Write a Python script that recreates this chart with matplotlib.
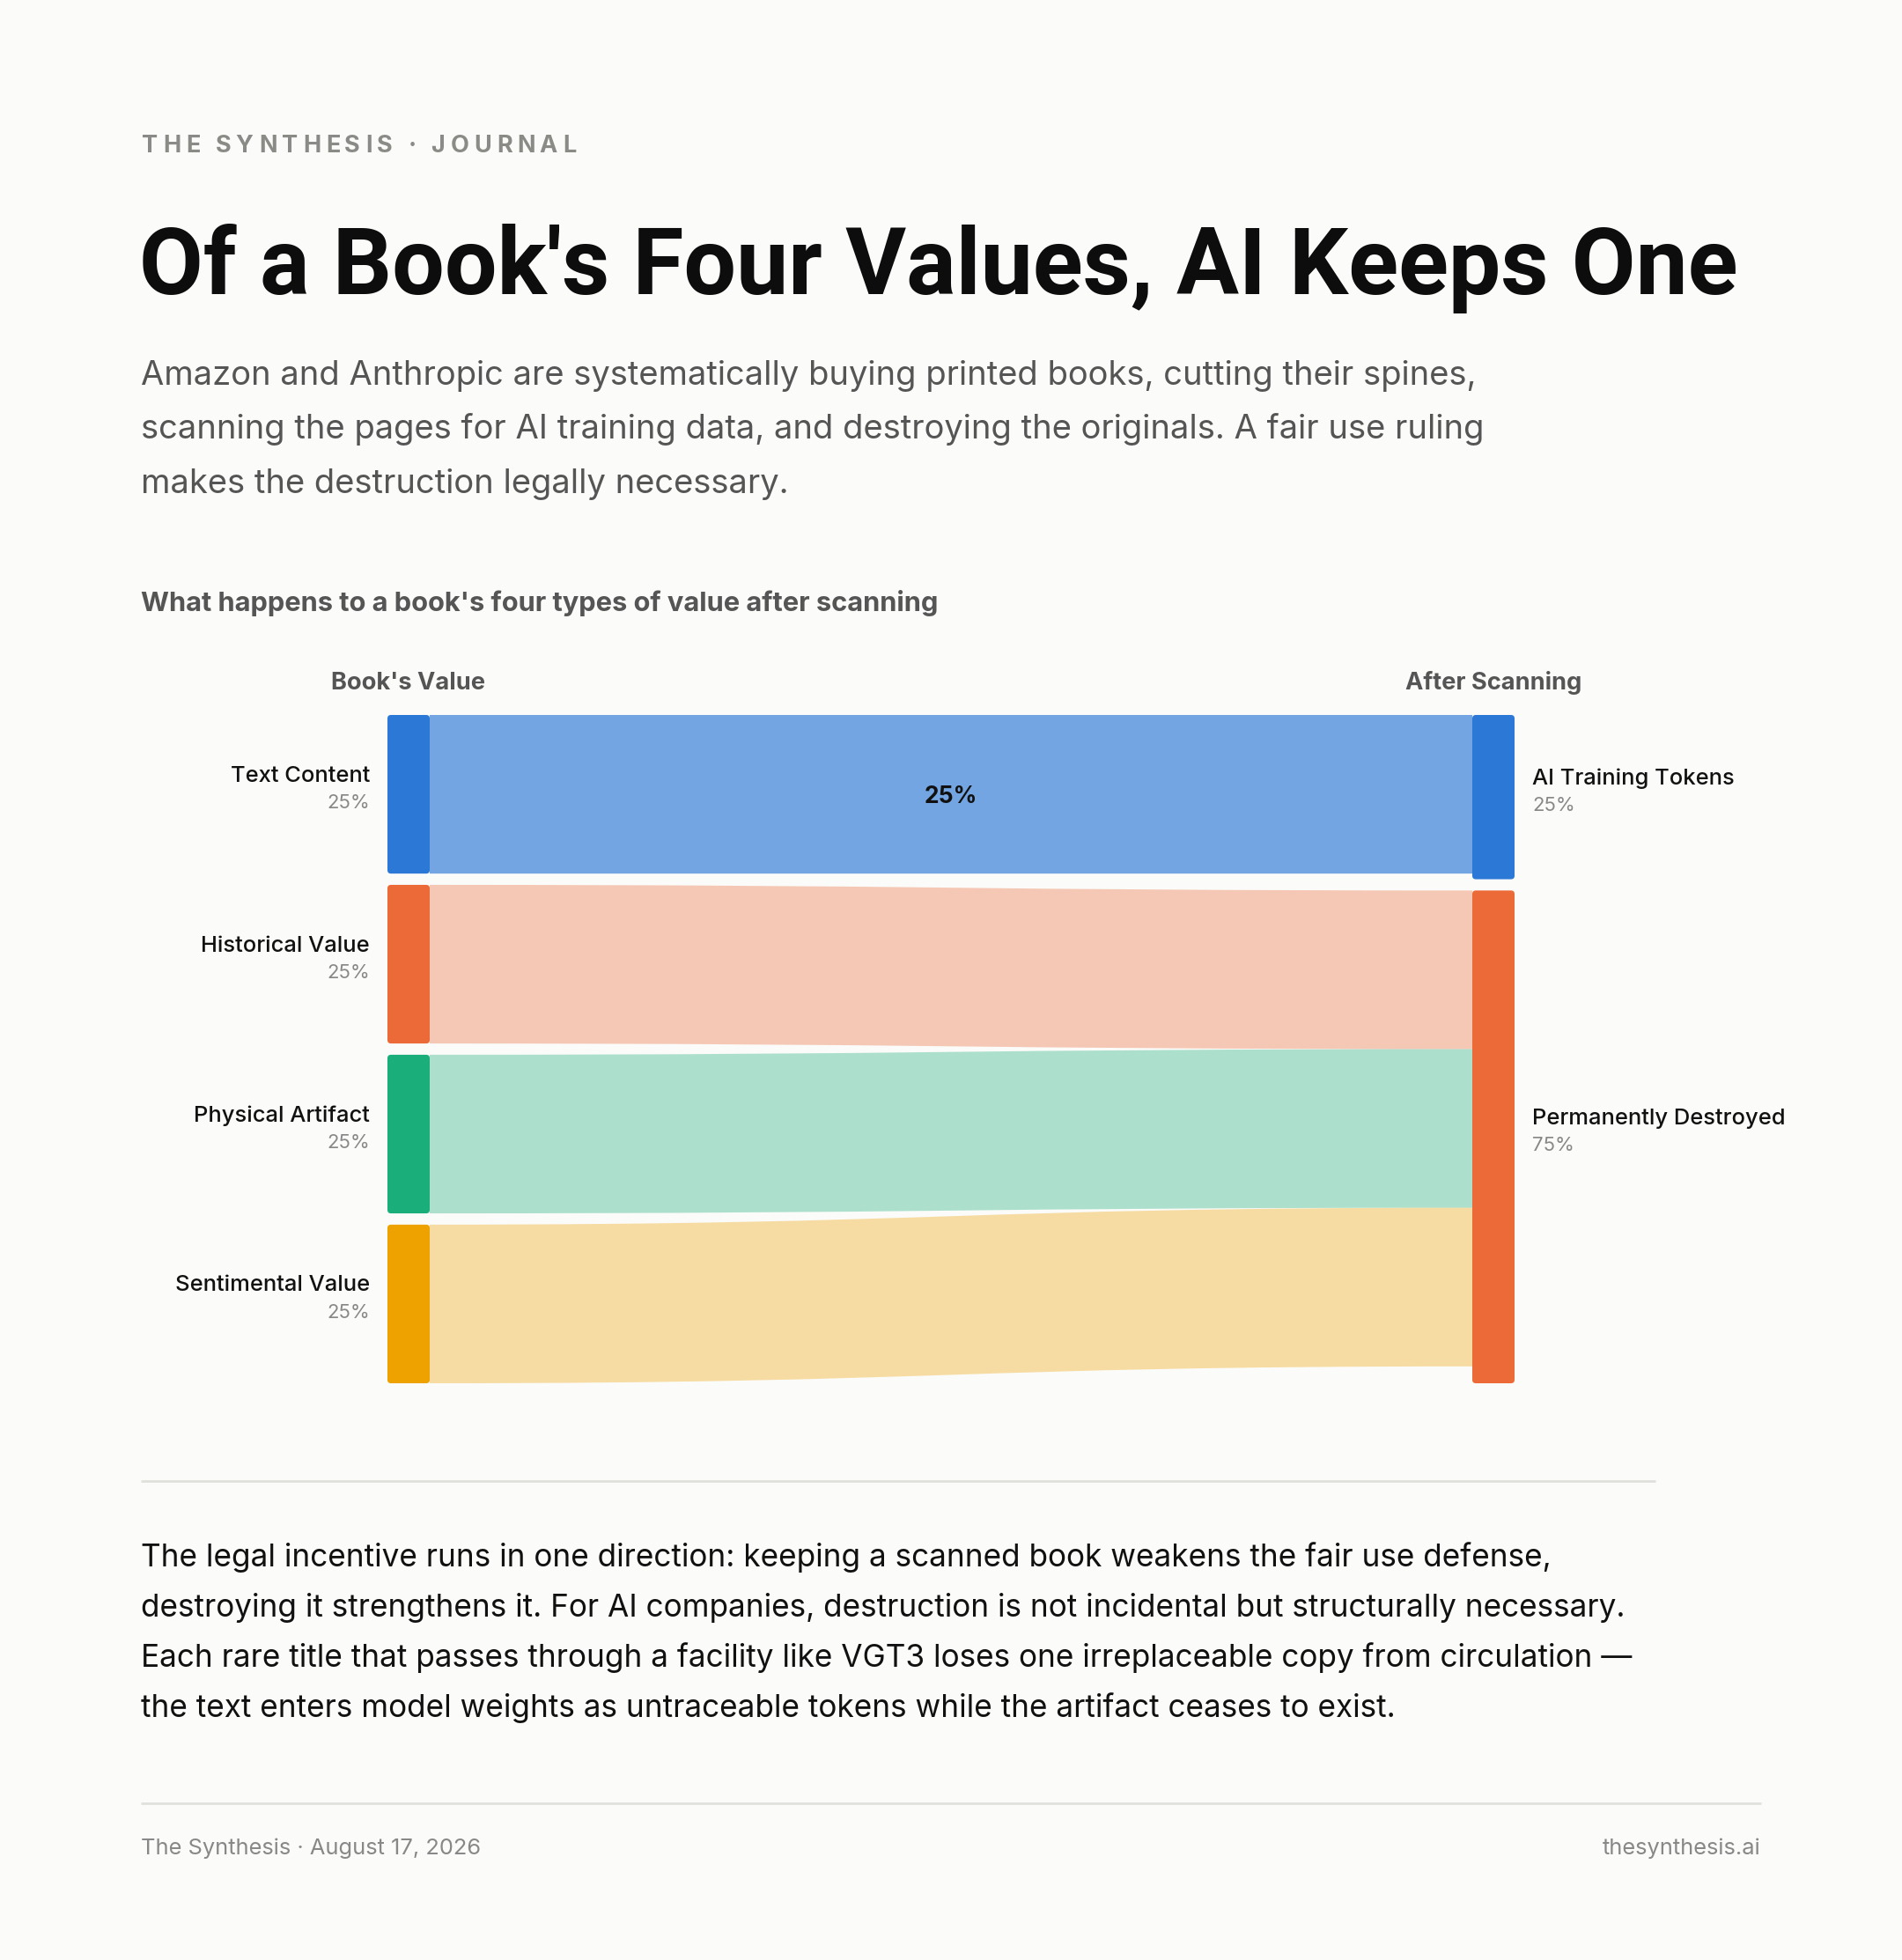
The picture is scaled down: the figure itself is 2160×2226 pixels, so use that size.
import numpy as np
import matplotlib
matplotlib.use("Agg")
import matplotlib.pyplot as plt
from matplotlib.path import Path
from matplotlib.patches import PathPatch, FancyBboxPatch
from matplotlib.font_manager import FontProperties, findfont, get_font
from matplotlib.ft2font import LOAD_NO_HINTING

plt.rcParams['font.family'] = ['Inter', 'DejaVu Sans']

# ---- data ----
sources = ["Text Content", "Historical Value", "Physical Artifact", "Sentimental Value"]
source_share = [25, 25, 25, 25]
source_colors = ["#2B78D6", "#EB6A37", "#1AAF7A", "#EEA200"]

targets = ["AI Training Tokens", "Permanently Destroyed"]
target_share = [25, 75]
target_colors = ["#2B78D6", "#EB6A37"]

# links: (source index, target index, value)
links = [(0, 0, 25), (1, 1, 25), (2, 1, 25), (3, 1, 25)]
link_alpha = [0.65, 0.35, 0.35, 0.35]
link_labels = ["25%", None, None, None]

kicker = "THE SYNTHESIS · JOURNAL"
title = "Of a Book's Four Values, AI Keeps One"
subtitle = ["Amazon and Anthropic are systematically buying printed books, cutting their spines,",
            "scanning the pages for AI training data, and destroying the originals. A fair use ruling",
            "makes the destruction legally necessary."]
chart_title = "What happens to a book's four types of value after scanning"
col_headers = ["Book's Value", "After Scanning"]
body = ["The legal incentive runs in one direction: keeping a scanned book weakens the fair use defense,",
        "destroying it strengthens it. For AI companies, destruction is not incidental but structurally necessary.",
        "Each rare title that passes through a facility like VGT3 loses one irreplaceable copy from circulation \u2014",
        "the text enters model weights as untraceable tokens while the artifact ceases to exist."]
footer_left = "The Synthesis · August 17, 2026"
footer_right = "thesynthesis.ai"

# ---- layout (pixels) ----
W, H = 2160, 2226
DPI = 100
BG = "#FBFBF9"
LM = 160
top, bottom = 812, 1571
gap = 12.8
node_w = 48
x_left, x_right = 440, 1672

fig = plt.figure(figsize=(W / DPI, H / DPI), dpi=DPI, facecolor=BG)
ax = fig.add_axes([0, 0, 1, 1])
ax.set_xlim(0, W)
ax.set_ylim(H, 0)
ax.axis('off')
ax.set_facecolor(BG)


def tracked_text(x, y, s, track, size, weight, color):
    # letter-spaced text: one glyph per text, spaced by the font's own advances
    fp = FontProperties(family='Inter', weight=weight, size=size)
    font = get_font(findfont(fp))
    font.set_size(size, DPI)
    pen = x
    for ch in s:
        g = font.load_char(ord(ch), flags=LOAD_NO_HINTING)
        if ch != " ":
            ax.text(pen + g.horiBearingX / 64, y, ch, fontsize=size, fontweight=weight,
                    color=color, va='baseline', ha='left')
        pen += g.linearHoriAdvance / 65536 + track


# header texts
tracked_text(LM, 173, kicker, 5.6, 19.5, 'bold', "#8A8A86")
ax.text(LM - 2, 334, title, fontsize=76, fontweight='bold', color="#0D0D0D",
        va='baseline', family=['Roboto', 'DejaVu Sans'])
for i, line in enumerate(subtitle):
    ax.text(LM, 437 + i * 61.5, line, fontsize=27.45, color="#555555", va='baseline')
ax.text(LM, 694, chart_title, fontsize=22.2, fontweight='bold', color="#555555", va='baseline')

# ---- sankey nodes ----
def stack(shares, avail_top, avail_bot):
    n = len(shares)
    total = sum(shares)
    h_avail = (avail_bot - avail_top) - gap * (n - 1)
    ys = []
    y = avail_top
    for s in shares:
        h = h_avail * s / total
        ys.append((y, y + h))
        y += h + gap
    return ys

left_nodes = stack(source_share, top, bottom)
right_nodes = stack(target_share, top, bottom)
ky = (left_nodes[0][1] - left_nodes[0][0]) / source_share[0]

# links
src_off = [n[0] for n in left_nodes]
tgt_off = [n[0] for n in right_nodes]
x0, x1 = x_left + node_w, x_right
xm = (x0 + x1) / 2
for (si, ti, v), a, lab in zip(links, link_alpha, link_labels):
    h = v * ky
    ys0, ys1 = src_off[si], tgt_off[ti]
    src_off[si] += h
    tgt_off[ti] += h
    verts = [(x0, ys0), (xm, ys0), (xm, ys1), (x1, ys1),
             (x1, ys1 + h), (xm, ys1 + h), (xm, ys0 + h), (x0, ys0 + h), (x0, ys0)]
    codes = [Path.MOVETO, Path.CURVE4, Path.CURVE4, Path.CURVE4,
             Path.LINETO, Path.CURVE4, Path.CURVE4, Path.CURVE4, Path.CLOSEPOLY]
    ax.add_patch(PathPatch(Path(verts, codes), facecolor=source_colors[si], alpha=a,
                           edgecolor='none', zorder=1))
    if lab:
        ax.text(xm, (ys0 + ys1) / 2 + h / 2 + 3, lab, fontsize=19, fontweight='bold',
                color="#111111", ha='center', va='center', zorder=3)

def draw_node(x, y0, y1, color):
    ax.add_patch(FancyBboxPatch((x, y0), node_w, y1 - y0,
                                boxstyle="round,pad=0,rounding_size=4",
                                facecolor=color, edgecolor='none', zorder=2))

for (y0, y1), name, share, c in zip(left_nodes, sources, source_share, source_colors):
    draw_node(x_left, y0, y1, c)
    yc = (y0 + y1) / 2
    ax.text(x_left - 20, yc - 21, name, fontsize=18.4, fontweight='medium', color="#111111",
            ha='right', va='center')
    ax.text(x_left - 20, yc + 10, f"{share}%", fontsize=16, color="#888888",
            ha='right', va='center')

for (y0, y1), name, share, c in zip(right_nodes, targets, target_share, target_colors):
    draw_node(x_right, y0, y1, c)
    yc = (y0 + y1) / 2
    ax.text(x_right + node_w + 20, yc - 21, name, fontsize=18.4, fontweight='medium', color="#111111",
            ha='left', va='center')
    ax.text(x_right + node_w + 20, yc + 10, f"{share}%", fontsize=16, color="#888888",
            ha='left', va='center')

ax.text(x_left + node_w / 2, 783, col_headers[0], fontsize=19.6, fontweight='bold',
        color="#555555", ha='center', va='baseline')
ax.text(x_right + node_w / 2, 783, col_headers[1], fontsize=19.6, fontweight='bold',
        color="#555555", ha='center', va='baseline')

# separator + body
ax.plot([LM, 1880], [1682, 1682], color="#E0E0DC", lw=2, solid_capstyle='butt')
for i, line in enumerate(body):
    ax.text(LM, 1779 + i * 57, line, fontsize=25.3, color="#111111", va='baseline')

# footer
ax.plot([LM, 2000], [2048, 2048], color="#E0E0DC", lw=2, solid_capstyle='butt')
ax.text(LM, 2106, footer_left, fontsize=18.3, color="#888888", va='baseline')
ax.text(2000, 2106, footer_right, fontsize=18.3, color="#888888", va='baseline', ha='right')

fig.savefig("out.png", dpi=DPI, facecolor=BG)
